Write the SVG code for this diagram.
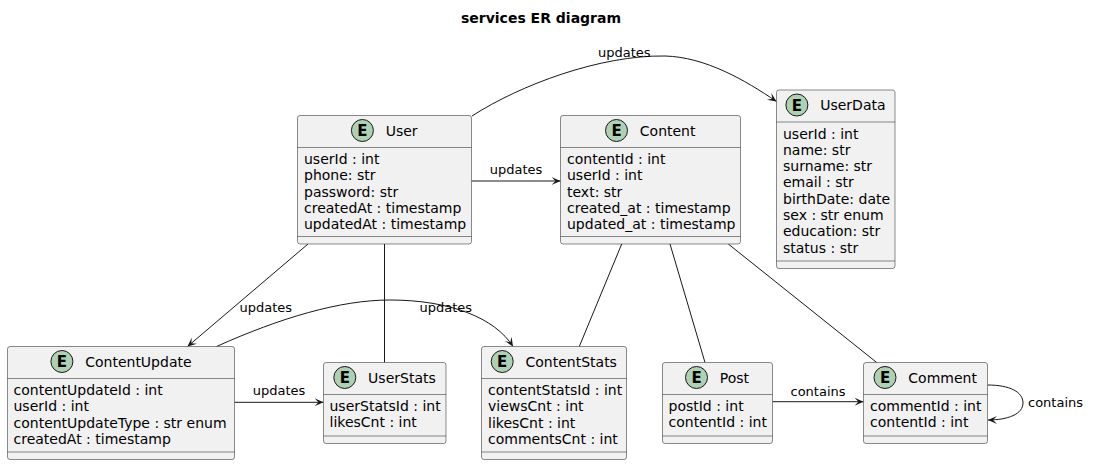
<svg xmlns="http://www.w3.org/2000/svg" width="1095" height="465" viewBox="0 0 1095 465">
<style>
.box{fill:#F1F1F1;stroke:#181818;stroke-width:0.5}
.div{stroke:#181818;stroke-width:0.5}
.circ{fill:#ADD1B2;stroke:#181818;stroke-width:1}
.e{font-family:"DejaVu Sans",sans-serif;font-size:15px;font-weight:bold;fill:#000;text-anchor:middle}
.name{font-family:"DejaVu Sans",sans-serif;font-size:14px;fill:#000}
.attr{font-family:"DejaVu Sans",sans-serif;font-size:14px;fill:#000}
.lbl{font-family:"DejaVu Sans",sans-serif;font-size:13px;fill:#000}
.title{font-family:"DejaVu Sans",sans-serif;font-size:14px;font-weight:bold;fill:#000;text-anchor:middle}
.ln{fill:none;stroke:#181818;stroke-width:1}
.arr{marker-end:url(#ah)}
</style>
<defs>
<marker id="ah" markerUnits="userSpaceOnUse" markerWidth="10" markerHeight="10" refX="9" refY="4" orient="auto">
<path d="M0,0 L9,4 L0,8 L4,4 Z" fill="#181818"/>
</marker>
</defs>
<rect width="1095" height="465" fill="#FFFFFF"/>
<text class="title" x="541" y="23">services ER diagram</text>

<g id="connectors">
<path class="ln arr" d="M472,116 C520,85 600,55 665,56 C705,57 745,80 776.5,101.5"/>
<text class="lbl" x="598" y="57">updates</text>
<path class="ln arr" d="M471.5,181 L560.5,181"/>
<text class="lbl" x="516" y="174" text-anchor="middle">updates</text>
<path class="ln arr" d="M308,244 L187.5,346.5"/>
<text class="lbl" x="239.5" y="312">updates</text>
<path class="ln" d="M384.5,244 L384.5,362.5"/>
<path class="ln arr" d="M216.5,346.5 C280,318 340,300 390,300 C450,300 495,318 513,346.5"/>
<text class="lbl" x="419.5" y="312">updates</text>
<path class="ln" d="M621.7,244 L579.3,346.5"/>
<path class="ln" d="M670,244 L705,362.5"/>
<path class="ln" d="M728.3,244 L876.7,362.5"/>
<path class="ln arr" d="M234.5,402.3 L323.5,402.3"/>
<text class="lbl" x="279" y="395" text-anchor="middle">updates</text>
<path class="ln arr" d="M772.5,401.7 L863.5,401.7"/>
<text class="lbl" x="818" y="395.5" text-anchor="middle">contains</text>
<path class="ln arr" d="M987.5,385 C1010,385 1023,392 1023,403 C1023,414 1008,420 988,420"/>
<text class="lbl" x="1028" y="407">contains</text>
</g>

<g id="User">
<rect class="box" x="297.5" y="115.5" width="174" height="128.5" rx="2.5"/>
<circle class="circ" cx="362.4" cy="130.5" r="11"/>
<text class="e" x="362.4" y="136">E</text>
<text class="name" x="385.7" y="135.5">User</text>
<line class="div" x1="297.5" y1="147.5" x2="471.5" y2="147.5"/>
<text class="attr" x="304" y="164">userId : int</text>
<text class="attr" x="304" y="180.3">phone: str</text>
<text class="attr" x="304" y="196.6">password: str</text>
<text class="attr" x="304" y="212.9">createdAt : timestamp</text>
<text class="attr" x="304" y="229.2">updatedAt : timestamp</text>
<line class="div" x1="297.5" y1="236.5" x2="471.5" y2="236.5"/>
</g>

<g id="Content">
<rect class="box" x="560.5" y="115.5" width="180" height="128.5" rx="2.5"/>
<circle class="circ" cx="616.5" cy="130.5" r="11"/>
<text class="e" x="616.5" y="136">E</text>
<text class="name" x="639.8" y="135.5">Content</text>
<line class="div" x1="560.5" y1="147.5" x2="740.5" y2="147.5"/>
<text class="attr" x="567" y="164">contentId : int</text>
<text class="attr" x="567" y="180.3">userId : int</text>
<text class="attr" x="567" y="196.6">text: str</text>
<text class="attr" x="567" y="212.9">created_at : timestamp</text>
<text class="attr" x="567" y="229.2">updated_at : timestamp</text>
<line class="div" x1="560.5" y1="236.5" x2="740.5" y2="236.5"/>
</g>

<g id="UserData">
<rect class="box" x="776.5" y="90" width="118.5" height="178.5" rx="2.5"/>
<circle class="circ" cx="796.9" cy="105" r="11"/>
<text class="e" x="796.9" y="110.5">E</text>
<text class="name" x="820.2" y="110">UserData</text>
<line class="div" x1="776.5" y1="122" x2="895" y2="122"/>
<text class="attr" x="783" y="138.5">userId : int</text>
<text class="attr" x="783" y="154.8">name: str</text>
<text class="attr" x="783" y="171.1">surname: str</text>
<text class="attr" x="783" y="187.4">email : str</text>
<text class="attr" x="783" y="203.7">birthDate: date</text>
<text class="attr" x="783" y="220">sex : str enum</text>
<text class="attr" x="783" y="236.3">education: str</text>
<text class="attr" x="783" y="252.6">status : str</text>
<line class="div" x1="776.5" y1="261" x2="895" y2="261"/>
</g>

<g id="ContentUpdate">
<rect class="box" x="7.5" y="346.5" width="227" height="113" rx="2.5"/>
<circle class="circ" cx="61.9" cy="361.5" r="11"/>
<text class="e" x="61.9" y="367">E</text>
<text class="name" x="85.2" y="366.5">ContentUpdate</text>
<line class="div" x1="7.5" y1="378.5" x2="234.5" y2="378.5"/>
<text class="attr" x="13.5" y="395">contentUpdateId : int</text>
<text class="attr" x="13.5" y="411.3">userId : int</text>
<text class="attr" x="13.5" y="427.6">contentUpdateType : str enum</text>
<text class="attr" x="13.5" y="443.9">createdAt : timestamp</text>
<line class="div" x1="7.5" y1="452" x2="234.5" y2="452"/>
</g>

<g id="ContentStats">
<rect class="box" x="481.5" y="346.5" width="145" height="113" rx="2.5"/>
<circle class="circ" cx="502.2" cy="361.5" r="11"/>
<text class="e" x="502.2" y="367">E</text>
<text class="name" x="525.5" y="366.5">ContentStats</text>
<line class="div" x1="481.5" y1="378.5" x2="626.5" y2="378.5"/>
<text class="attr" x="488" y="395">contentStatsId : int</text>
<text class="attr" x="488" y="411.3">viewsCnt : int</text>
<text class="attr" x="488" y="427.6">likesCnt : int</text>
<text class="attr" x="488" y="443.9">commentsCnt : int</text>
<line class="div" x1="481.5" y1="452" x2="626.5" y2="452"/>
</g>

<g id="UserStats">
<rect class="box" x="323.5" y="362.5" width="122.5" height="81" rx="2.5"/>
<circle class="circ" cx="344.8" cy="377.5" r="11"/>
<text class="e" x="344.8" y="383">E</text>
<text class="name" x="368.1" y="382.5">UserStats</text>
<line class="div" x1="323.5" y1="394.5" x2="446" y2="394.5"/>
<text class="attr" x="329.5" y="411">userStatsId : int</text>
<text class="attr" x="329.5" y="427.3">likesCnt : int</text>
<line class="div" x1="323.5" y1="436" x2="446" y2="436"/>
</g>

<g id="Post">
<rect class="box" x="662.5" y="362.5" width="110" height="81" rx="2.5"/>
<circle class="circ" cx="696.5" cy="377.5" r="11"/>
<text class="e" x="696.5" y="383">E</text>
<text class="name" x="719.8" y="382.5">Post</text>
<line class="div" x1="662.5" y1="394.5" x2="772.5" y2="394.5"/>
<text class="attr" x="668.5" y="411">postId : int</text>
<text class="attr" x="668.5" y="427.3">contentId : int</text>
<line class="div" x1="662.5" y1="436" x2="772.5" y2="436"/>
</g>

<g id="Comment">
<rect class="box" x="863.5" y="362.5" width="124" height="81" rx="2.5"/>
<circle class="circ" cx="885" cy="377.5" r="11"/>
<text class="e" x="885" y="383">E</text>
<text class="name" x="908.3" y="382.5">Comment</text>
<line class="div" x1="863.5" y1="394.5" x2="987.5" y2="394.5"/>
<text class="attr" x="870" y="411">commentId : int</text>
<text class="attr" x="870" y="427.3">contentId : int</text>
<line class="div" x1="863.5" y1="436" x2="987.5" y2="436"/>
</g>
</svg>
